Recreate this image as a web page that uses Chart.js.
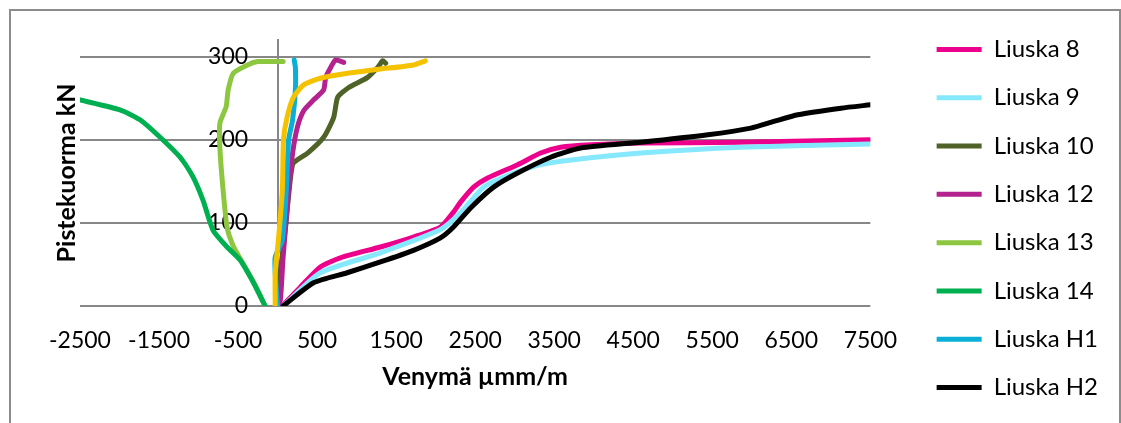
<!DOCTYPE html>
<html>
<head>
<meta charset="utf-8">
<script src="https://cdn.jsdelivr.net/npm/chart.js@4.4.0/dist/chart.umd.min.js"></script>
<style>
  html, body { margin: 0; padding: 0; background: #fff; overflow: hidden; }
  #wrap { position: relative; width: 1121px; height: 423px; }
  #frame { position: absolute; left: 9px; top: 9px; width: 1108px; height: 500px; border: 2px solid #8c8c8c; pointer-events: none; }
  canvas { position: absolute; left: 0; top: 0; }
</style>
</head>
<body>
<div id="wrap">
  <canvas id="chart" width="1121" height="423"></canvas>
  <div id="frame"></div>
</div>
<script>
// axis ticks
const xTicks = [-2500, -1500, -500, 500, 1500, 2500, 3500, 4500, 5500, 6500, 7500];
const yTicks = [0, 100, 200, 300];

// strain (x) and load (y), one pair of arrays per gauge
const l8X = [60, 290, 541, 794, 1301, 1719, 2061, 2226, 2315, 2480, 2657, 3037, 3328, 3582, 3962, 4595, 5862, 7500];
const l8Y = [0, 23, 47, 58, 71, 83, 95, 113, 125, 143, 154, 170, 184, 191, 194, 196, 197, 200];

const l9X = [70, 541, 1301, 2061, 2315, 2607, 2911, 3328, 3746, 4595, 5862, 7500];
const l9Y = [0, 40, 64, 92, 112, 143, 157, 170, 176, 184, 191, 195];

const l10X = [10, 35, 100, 160, 200, 380, 583, 710, 760, 887, 1140, 1267, 1330, 1368];
const l10Y = [0, 40, 95, 151, 172, 184, 203, 227, 251, 262, 275, 287, 295, 292];

const l12X = [0, 35, 70, 140, 190, 250, 330, 456, 583, 609, 672, 735, 837];
const l12Y = [0, 7, 59, 139, 184, 215, 235, 248, 260, 275, 287, 296, 293];

const l13X = [-160, -300, -430, -560, -640, -690, -730, -730, -650, -625, -560, -380, -250, 70];
const l13Y = [0, 28, 50, 72, 95, 140, 190, 220, 240, 260, 280, 290, 294, 294];

const l14X = [-2500, -1994, -1741, -1487, -1234, -1069, -943, -816, -640, -472, -305, -156];
const l14Y = [248, 236, 224, 203, 179, 155, 127, 91, 71, 55, 28, 0];

const h1X = [0, -30, -30, 60, 110, 140, 190, 225, 225, 210];
const h1Y = [0, 40, 59, 79, 139, 200, 224, 260, 287, 296];

const h2X = [70, 456, 880, 1301, 1719, 2061, 2226, 2442, 2733, 3037, 3455, 3835, 4595, 5444, 5988, 6279, 6583, 7128, 7500];
const h2Y = [0, 28, 40, 53, 67, 82, 95, 118, 143, 160, 179, 190, 197, 206, 214, 222, 230, 238, 242];

// yellow series has no legend entry in the original
const l11X = [-30, -30, 10, 60, 75, 120, 200, 330, 540, 887, 1301, 1720, 1870];
const l11Y = [0, 40, 79, 139, 200, 227, 251, 266, 274, 280, 285, 290, 295];

const FONT = 'Lato, "Open Sans", sans-serif';
const HIDDEN = 'Liuska 11';
const YPAD = '\u00a0\u00a0\u00a0\u00a0\u00a0'; // keeps y labels off the axis line

const pts = (xs, ys) => xs.map((x, i) => ({ x: x, y: ys[i] }));

const series = [
  { label: 'Liuska 8', xs: l8X, ys: l8Y, color: '#EC008C' },
  { label: 'Liuska 9', xs: l9X, ys: l9Y, color: '#86E8FC' },
  { label: 'Liuska 10', xs: l10X, ys: l10Y, color: '#4F6228' },
  { label: 'Liuska 12', xs: l12X, ys: l12Y, color: '#B3228F' },
  { label: 'Liuska 13', xs: l13X, ys: l13Y, color: '#8DC63F' },
  { label: 'Liuska 14', xs: l14X, ys: l14Y, color: '#00B050' },
  { label: 'Liuska H1', xs: h1X, ys: h1Y, color: '#0AAED6' },
  { label: 'Liuska H2', xs: h2X, ys: h2Y, color: '#000000' },
  { label: HIDDEN, xs: l11X, ys: l11Y, color: '#F5C200' }
];

const datasets = series.map((s, i) => ({
  label: s.label,
  data: pts(s.xs, s.ys),
  showLine: true,
  borderColor: s.color,
  backgroundColor: s.color,
  borderWidth: 5,
  borderCapStyle: 'round',
  borderJoinStyle: 'round',
  pointRadius: 0,
  tension: 0.2,
  order: series.length - i // later series drawn on top, like Excel
}));

const hidden = { display: false };

new Chart(document.getElementById('chart'), {
  type: 'scatter',
  data: { datasets: datasets },
  options: {
    responsive: false,
    animation: false,
    layout: { padding: { top: 12, bottom: -2, left: 0, right: 13 } },
    plugins: {
      legend: {
        position: 'right',
        maxWidth: 400,
        labels: {
          usePointStyle: true,
          pointStyle: 'line',
          pointStyleWidth: 45,
          padding: 24.3,
          color: '#000',
          font: { family: FONT, size: 24 },
          filter: (item) => item.text !== HIDDEN,
          sort: (a, b) => a.datasetIndex - b.datasetIndex
        }
      },
      tooltip: { enabled: false }
    },
    scales: {
      x: {
        type: 'linear',
        position: 'bottom',
        min: -2500,
        max: 7500,
        afterBuildTicks: (s) => { s.ticks = xTicks.map(v => ({ value: v })); },
        afterFit: (s) => { s.height = 119; },
        grid: hidden,
        border: hidden,
        ticks: {
          color: '#000',
          font: { family: FONT, size: 23 },
          padding: 13,
          maxRotation: 0,
          autoSkip: false,
          callback: (v) => String(v)
        },
        title: {
          display: true,
          text: 'Venymä µmm/m',
          color: '#000',
          font: { family: FONT, size: 25, weight: 'bold' },
          padding: { top: 0, bottom: 33 }
        }
      },
      y: {
        type: 'linear',
        position: { x: 0 },
        min: 0,
        max: 320,
        afterBuildTicks: (s) => { s.ticks = yTicks.map(v => ({ value: v })); },
        grid: { color: '#878787', lineWidth: 2, drawTicks: false },
        border: { display: true, color: '#878787', width: 2 },
        ticks: { color: '#000', font: { family: FONT, size: 23 }, callback: (v) => v + YPAD }
      },
      // spacer axes: y title on the left, gap before legend, room above plot
      yTitle: {
        type: 'linear',
        position: 'left',
        afterFit: (s) => { s.width = 80; },
        grid: hidden,
        border: hidden,
        ticks: hidden,
        title: {
          display: true,
          text: 'Pistekuorma kN',
          color: '#000',
          font: { family: FONT, size: 25, weight: 'bold' },
          padding: { top: 52, bottom: 0 }
        }
      },
      yGap: {
        type: 'linear',
        position: 'right',
        afterFit: (s) => { s.width = 42; },
        grid: hidden,
        border: hidden,
        ticks: hidden
      },
      xTop: {
        type: 'linear',
        position: 'top',
        afterFit: (s) => { s.height = 28; },
        grid: hidden,
        border: hidden,
        ticks: hidden
      }
    }
  }
});
</script>
</body>
</html>
